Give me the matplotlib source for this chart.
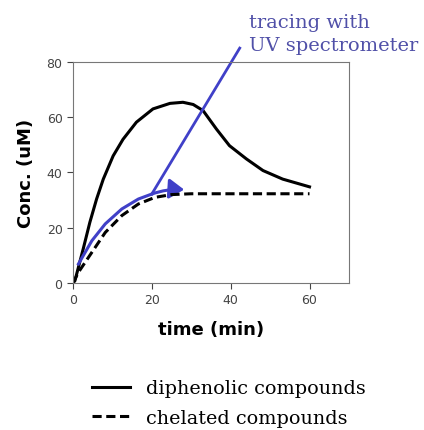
import matplotlib.pyplot as plt
from matplotlib.patches import FancyArrowPatch

# diphenolic compounds (solid)
t_di = [0, 0.5, 2.6, 4.3, 6, 7.7, 10.2, 12.7, 16.1, 20.3, 24.6, 27.9, 30.5, 33, 36.4,
        39.7, 44, 48.2, 53.2, 60]
c_di = [0, 0.8, 12.3, 22, 30.4, 37.6, 46, 52, 58.2, 63, 65, 65.4, 64.6, 62.4, 55.7,
        49.7, 44.9, 40.7, 37.6, 34.8]

# chelated compounds (dashed)
t_ch = [0, 1.4, 4.8, 8.2, 12.4, 16.6, 20.8, 25, 30, 40, 50, 60]
c_ch = [0, 3.9, 11.1, 18.3, 24.4, 28.6, 31, 32, 32.3, 32.3, 32.3, 32.3]

# blue tracing curve
t_tr = [1.4, 4.8, 8.2, 12.4, 16.6, 20]
c_tr = [6.9, 15.3, 21.4, 26.8, 30.4, 32.2]
arrow_end = (28.2, 33.8)
line_end = (42.3, 85)

blue = '#4040c8'

fig = plt.figure(figsize=(4.24, 4.31), dpi=100)
ax = fig.add_axes([0.172, 0.341, 0.651, 0.513])

ax.plot(t_di, c_di, color='black', lw=2.2, label='diphenolic compounds')
ax.plot(t_ch, c_ch, color='black', lw=2.2, ls=(0, (3, 1.5)), label='chelated compounds')

ax.plot(t_tr, c_tr, color=blue, lw=2.2)
ax.add_patch(FancyArrowPatch((t_tr[-1], c_tr[-1]), arrow_end, connectionstyle='arc3,rad=-0.1',
                             arrowstyle='-|>,head_length=6,head_width=4', color=blue, lw=2.2,
                             mutation_scale=1.5, shrinkA=0, shrinkB=0))
ax.plot([t_tr[-1], line_end[0]], [c_tr[-1], line_end[1]], color=blue, lw=2,
        clip_on=False)

ax.set_xlim(0, 70)
ax.set_ylim(0, 80)
ax.set_xticks([0, 20, 40, 60])
ax.set_yticks([0, 20, 40, 60, 80])
ax.tick_params(colors='#444444', labelsize=9, direction='out', length=4)
for s in ax.spines.values():
    s.set_color('#777777')
ax.set_xlabel('time (min)', fontsize=13, fontweight='bold', labelpad=10)
ax.set_ylabel('Conc. (uM)', fontsize=13, fontweight='bold', labelpad=8)

fig.text(0.588, 0.92, 'tracing with\nUV spectrometer', color='#5050a8', fontsize=14,
         family='DejaVu Serif', linespacing=1.42, va='center')

fig.legend(loc='lower left', bbox_to_anchor=(0.176, -0.033), frameon=False,
           prop={'family': 'DejaVu Serif', 'size': 13.8}, handlelength=2.0,
           handletextpad=0.8, labelspacing=0.6)

fig.savefig('out.png', dpi=100)
